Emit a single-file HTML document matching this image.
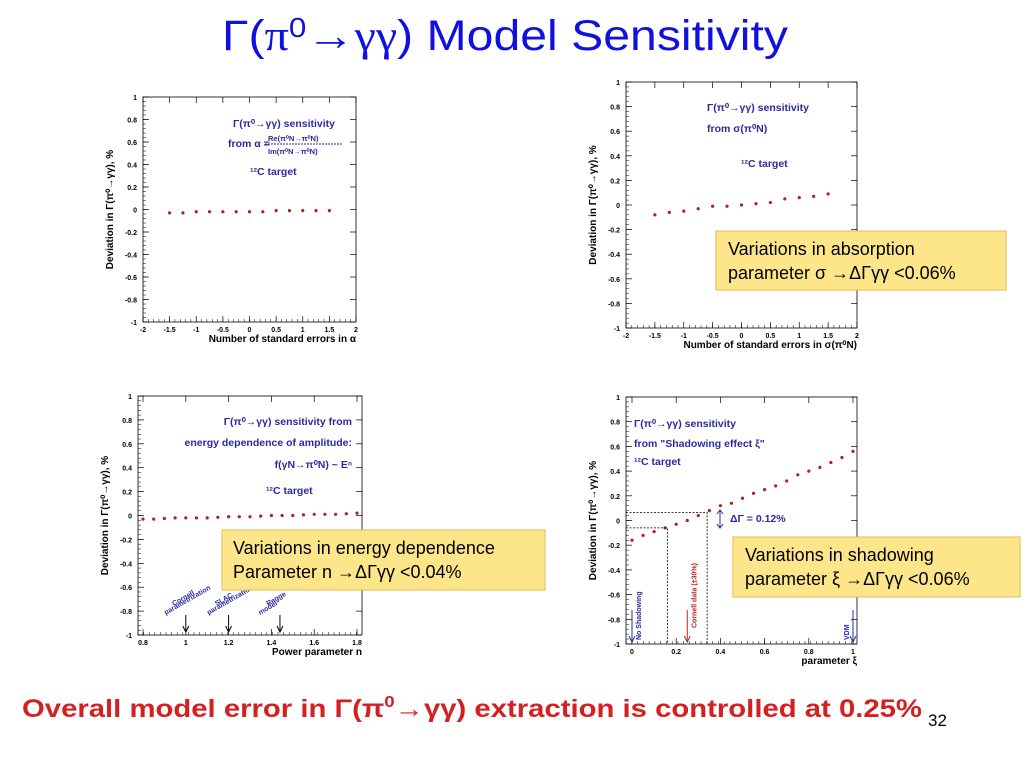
<!DOCTYPE html>
<html><head><meta charset="utf-8"><style>
body{margin:0;background:#fff;width:1024px;height:768px;overflow:hidden;font-family:"Liberation Sans",sans-serif}
svg{position:absolute;left:0;top:0}
</style></head><body>
<svg id="s" width="1024" height="768" viewBox="0 0 1024 768">
<text x="505" y="50" text-anchor="middle" font-size="43" fill="#1010e0" textLength="566" lengthAdjust="spacingAndGlyphs">Γ(<tspan font-family="Liberation Serif">π</tspan><tspan font-size="28" dy="-13">0</tspan><tspan dy="13" font-family="Liberation Serif">→γγ</tspan>) Model Sensitivity</text>
<g id="plots"></g>
<g>
<rect x="716" y="231" width="290" height="59" fill="#fde68a" stroke="#e6b94c"/>
<text x="728" y="255" font-size="18" fill="#000">Variations in absorption</text>
<text x="728" y="279" font-size="18" fill="#000">parameter σ  →ΔΓγγ &lt;0.06%</text></g>
<g>
<rect x="222" y="530" width="323" height="60" fill="#fde68a" stroke="#e6b94c"/>
<text x="233" y="554" font-size="18" fill="#000">Variations in energy dependence</text>
<text x="233" y="578" font-size="18" fill="#000">Parameter n   →ΔΓγγ &lt;0.04%</text></g>
<g>
<rect x="733" y="537" width="287" height="60" fill="#fde68a" stroke="#e6b94c"/>
<text x="745" y="561" font-size="18" fill="#000">Variations in shadowing</text>
<text x="745" y="585" font-size="18" fill="#000">parameter ξ  →ΔΓγγ &lt;0.06%</text></g>
<text x="22" y="717" font-size="25" font-weight="bold" fill="#d42020" textLength="900" lengthAdjust="spacingAndGlyphs">Overall model error in Γ(π<tspan font-size="16" dy="-10">0</tspan><tspan dy="10">→γγ) extraction is controlled at 0.25%</tspan></text>
<text x="928" y="726" font-size="17" fill="#000">32</text>
</svg>
<script>
const p1x=[-1.5,-1.25,-1,-0.75,-0.5,-0.25,0,0.25,0.5,0.75,1,1.25,1.5];
const p1y=[-0.03,-0.03,-0.02,-0.02,-0.02,-0.02,-0.02,-0.02,-0.01,-0.01,-0.01,-0.01,-0.01];
const p2x=[-1.5,-1.25,-1,-0.75,-0.5,-0.25,0,0.25,0.5,0.75,1,1.25,1.5];
const p2y=[-0.08,-0.06,-0.05,-0.03,-0.01,-0.01,0,0.01,0.02,0.05,0.06,0.07,0.09];
const p3x=[0.8,0.85,0.9,0.95,1,1.05,1.1,1.15,1.2,1.25,1.3,1.35,1.4,1.45,1.5,1.55,1.6,1.65,1.7,1.75,1.8];
const p3y=[-0.03,-0.03,-0.025,-0.02,-0.02,-0.02,-0.02,-0.015,-0.01,-0.01,-0.01,-0.005,0,0,0,0.005,0.01,0.01,0.01,0.015,0.02];
const p4x=[0,0.05,0.1,0.15,0.2,0.25,0.3,0.35,0.4,0.45,0.5,0.55,0.6,0.65,0.7,0.75,0.8,0.85,0.9,0.95,1];
const p4y=[-0.16,-0.12,-0.09,-0.06,-0.03,0,0.04,0.08,0.12,0.14,0.18,0.22,0.25,0.28,0.32,0.37,0.40,0.43,0.47,0.51,0.56];
const yTicks=[1,0.8,0.6,0.4,0.2,0,-0.2,-0.4,-0.6,-0.8,-1];
const xt1=[-2,-1.5,-1,-0.5,0,0.5,1,1.5,2];
const xt3=[0.8,1,1.2,1.4,1.6,1.8];
const xt4=[0,0.2,0.4,0.6,0.8,1];
const NS='http://www.w3.org/2000/svg';
const G=document.getElementById('plots');
function mk(t,a,p){const e=document.createElementNS(NS,t);for(const k in a)e.setAttribute(k,a[k]);(p||G).appendChild(e);return e;}
function plot(name,L,R,T,B,x0,x1,fx0,fx1,xs,ys,xticks,xlabel){
 const g=mk('g',{});
 
 
 const X=v=>fx0+(v-x0)/(x1-x0)*(fx1-fx0);
 const Y=v=>B-(v+1)/2*(B-T);
 const fr=mk('rect',{x:L,y:T,width:R-L,height:B-T,fill:'none',stroke:'#000','stroke-width':0.8},g);
 
 
 yTicks.forEach(v=>{const y=Y(v);
  mk('line',{x1:L,x2:L+6,y1:y,y2:y,stroke:'#000','stroke-width':0.7},g);
  mk('line',{x1:R,x2:R-6,y1:y,y2:y,stroke:'#000','stroke-width':0.7},g);
  const t=mk('text',{x:L-6,y:y+3,'font-size':7,'font-weight':'bold','text-anchor':'end'},g);t.textContent=v;
  
  });
 for(let i=0;i<50;i++){const y=T+i*(B-T)/50;mk('line',{x1:L,x2:L+3,y1:y,y2:y,stroke:'#000','stroke-width':0.5},g);}
 xticks.forEach(v=>{const x=X(v);
  mk('line',{x1:x,x2:x,y1:B,y2:B-6,stroke:'#000','stroke-width':0.7},g);
  mk('line',{x1:x,x2:x,y1:T,y2:T+6,stroke:'#000','stroke-width':0.7},g);
  const t=mk('text',{x:x,y:B+10,'font-size':7,'font-weight':'bold','text-anchor':'middle'},g);t.textContent=v;
  
  });
 for(let i=0;i<40;i++){const x=L+i*(R-L)/40;mk('line',{x1:x,x2:x,y1:B,y2:B-3,stroke:'#000','stroke-width':0.5},g);}
 const xl=mk('text',{x:R,y:B+20,'font-size':10,'font-weight':'bold','text-anchor':'end'},g);xl.textContent=xlabel;
 
 
 const yl=mk('text',{transform:`translate(${L-30},${(T+B)/2}) rotate(-90)`,'font-size':10,'font-weight':'bold','text-anchor':'middle'},g);yl.textContent='Deviation in Γ(π⁰→γγ), %';
 
 
 xs.forEach((v,i)=>{const c=mk('circle',{cx:X(v),cy:Y(ys[i]),r:1.6,fill:'#b02020'},g);
  
  });
 return {g,X,Y};
}
function txt(g,x,y,s,str,extra){const t=mk('text',Object.assign({x:x,y:y,'font-size':s,'font-weight':'bold',fill:'#2a2aa0'},extra||{}),g);t.textContent=str;
 
 return t;}
let a=plot('chart-alpha',143,356,97,322,-2,2,143,356,p1x,p1y,xt1,'Number of standard errors in α');
txt(a.g,233,127,10.5,'Γ(π⁰→γγ) sensitivity');txt(a.g,228,147,10.5,'from α =');txt(a.g,268,141,7.5,'Re(π⁰N→π⁰N)');
mk('line',{x1:265,x2:343,y1:144,y2:144,stroke:'#2a2aa0','stroke-dasharray':'2 1'},a.g);txt(a.g,268,154,7.5,'Im(π⁰N→π⁰N)');txt(a.g,250,175,10.5,'¹²C target');
let b=plot('chart-sigma',626,857,82,328,-2,2,626,857,p2x,p2y,xt1,'Number of standard errors in σ(π⁰N)');
txt(b.g,707,111,10.5,'Γ(π⁰→γγ) sensitivity');txt(b.g,707,132,10.5,'from σ(π⁰N)');txt(b.g,741,167,10.5,'¹²C target');
let c=plot('chart-energy',138,362,396,635,0.8,1.8,143,357,p3x,p3y,xt3,'Power parameter n');
txt(c.g,352,425,10.5,'Γ(π⁰→γγ) sensitivity from',{'text-anchor':'end'});txt(c.g,352,446,10.5,'energy dependence of amplitude:',{'text-anchor':'end'});
txt(c.g,352,468,10.5,'f(γN→π⁰N) ~ Eⁿ',{'text-anchor':'end'});txt(c.g,266,494,10.5,'¹²C target');
[[1,'Cornell','parametrization'],[1.2,'SLAC','parametrization'],[1.44,'Regge','model']].forEach(d=>{const x=c.X(d[0]);
 mk('line',{x1:x,x2:x,y1:615,y2:632,stroke:'#000'},c.g);mk('path',{d:`M${x-3},626 L${x},632 L${x+3},626`,fill:'none',stroke:'#000'},c.g);
 txt(c.g,x-12,606,7,d[1],{transform:`rotate(-30 ${x-12} 606)`});txt(c.g,x-20,615,7,d[2],{transform:`rotate(-30 ${x-20} 615)`});});
let d=plot('chart-shadowing',626,857,397,644,0,1,632,853,p4x,p4y,xt4,'parameter ξ');
txt(d.g,634,427,10.5,'Γ(π⁰→γγ) sensitivity');txt(d.g,634,447,10.5,'from "Shadowing effect  ξ"');txt(d.g,634,465,10.5,'¹²C target');
txt(d.g,730,522,10.5,'ΔΓ = 0.12%');
mk('path',{d:`M626,${d.Y(-0.06)} H${d.X(0.16)} V644 M626,${d.Y(0.065)} H${d.X(0.34)} V644`,fill:'none',stroke:'#000','stroke-dasharray':'2 1.5','stroke-width':0.8},d.g);
mk('path',{d:'M720,511 V527 M717,514 L720,510 L723,514 M717,524 L720,528 L723,524',fill:'none',stroke:'#2a2aa0'},d.g);
[[0,'#2a2aa0','No Shadowing',640],[0.25,'#c02020','Cornell data (±30%)',628],[1,'#2a2aa0','VDM',640]].forEach(e=>{const x=d.X(e[0]);
 mk('line',{x1:x,x2:x,y1:610,y2:642,stroke:e[1]},d.g);mk('path',{d:`M${x-3},636 L${x},642 L${x+3},636`,fill:'none',stroke:e[1]},d.g);
 const lx=e[0]==1?x-4:x+9;
 txt(d.g,lx,e[3],7,e[2],{transform:`rotate(-90 ${lx} ${e[3]})`,fill:e[1]});});
</script>
</body></html>
